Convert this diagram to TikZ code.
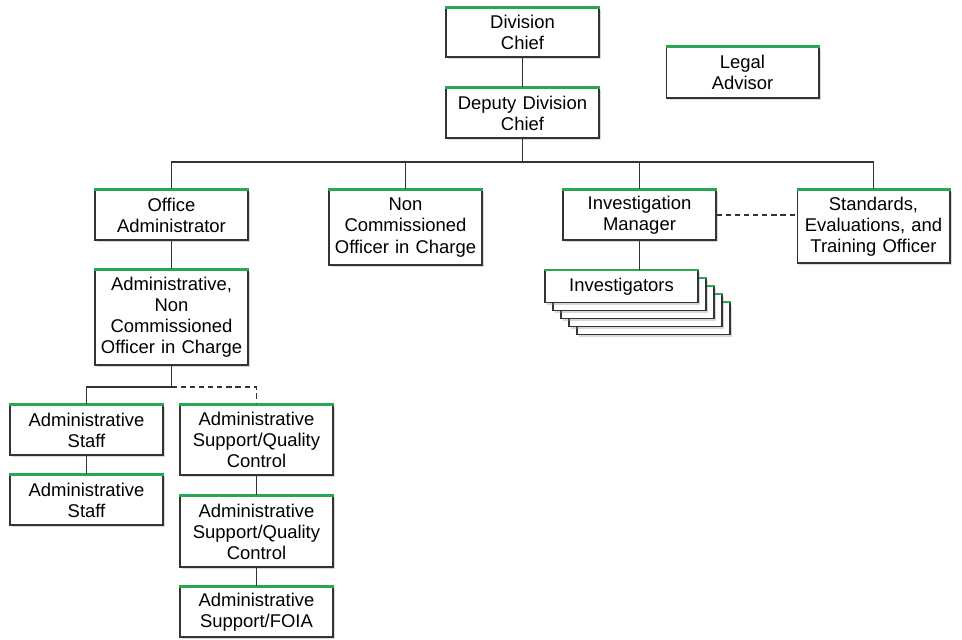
\documentclass[tikz,border=0pt]{standalone}
\usepackage{fontspec}
\setmainfont{Liberation Sans}
\usetikzlibrary{shadows}
\definecolor{topgreen}{RGB}{40,168,80}
\definecolor{linegray}{RGB}{51,51,51}

\begin{document}
\begin{tikzpicture}[x=0.02cm, y=-0.02cm,
    orgbox/.style={draw=linegray, fill=white, line width=0.6pt,
        minimum width=3.06cm, text width=2.9cm, align=center,
        inner sep=0pt, font=\fontsize{10.5}{12}\selectfont,
        drop shadow={shadow xshift=1.2pt, shadow yshift=-1.2pt, opacity=0.3}},
    topline/.style={topgreen, line width=1.2pt},
    link/.style={draw=linegray, line width=0.6pt},
    dotlink/.style={link, dash pattern=on 3pt off 2.2pt}]
    \useasboundingbox (0,0) rectangle (962,639);
    % Top of the chart
    \node[orgbox, minimum height=0.98cm] (chief) at (522.5,32.5) {Division\\Chief};
    \node[orgbox, minimum height=1cm] (deputy) at (522.5,113) {Deputy Division\\Chief};
    \node[orgbox, minimum height=1.02cm] (legal) at (742.5,72.5) {Legal\\Advisor};
    % Second row
    \node[orgbox, minimum height=1cm] (offadm) at (171.5,215) {Office\\Administrator};
    \node[orgbox, minimum height=1.5cm] (nco) at (405.5,227.5) {Non\\Commissioned\\Officer in Charge};
    \node[orgbox, minimum height=1cm] (invmgr) at (639.5,215) {Investigation\\Manager};
    \node[orgbox, minimum height=1.46cm] (seto) at (873.5,226.5) {Standards,\\Evaluations, and\\Training Officer};
    % Stack of investigators
    \foreach \i in {4,3,2,1} {
        \node[orgbox, minimum height=0.64cm] (inv\i) at (621.5+8*\i,286.5+8*\i) {};
        \draw[topline] (inv\i.north west) -- (inv\i.north east);
    }
    \node[orgbox, minimum height=0.64cm] (inv) at (621.5,286.5) {Investigators};
    % Administrative branch
    \node[orgbox, minimum height=1.9cm] (anco) at (171.5,317.5) {Administrative,\\Non\\Commissioned\\Officer in Charge};
    \node[orgbox, minimum height=1cm] (staffa) at (86.5,430) {Administrative\\Staff};
    \node[orgbox, minimum height=1cm] (staffb) at (86.5,500) {Administrative\\Staff};
    \node[orgbox, minimum height=1.4cm] (qca) at (256.5,440) {Administrative\\Support/Quality\\Control};
    \node[orgbox, minimum height=1.42cm] (qcb) at (256.5,531.5) {Administrative\\Support/Quality\\Control};
    \node[orgbox, minimum height=1cm] (foia) at (256.5,612) {Administrative\\Support/FOIA};
    % Green top edges
    \foreach \n in {chief,deputy,legal,offadm,nco,invmgr,seto,inv,anco,staffa,staffb,qca,qcb,foia} {
        \draw[topline] (\n.north west) -- (\n.north east);
    }
    % Connectors
    \coordinate (bus) at (522.5,162);
    \coordinate (split) at (171.5,387);
    \draw[link] (chief) -- (deputy);
    \draw[link] (deputy) -- (bus);
    \foreach \n in {offadm,nco,invmgr,seto} {
        \draw[link] (bus) -| (\n.north);
    }
    \draw[dotlink] (invmgr.east) -- (invmgr.east -| seto.west);
    \draw[link] (invmgr.south) -- (invmgr.south |- inv.north);
    \draw[link] (offadm) -- (anco);
    \draw[link] (anco) -- (split);
    \draw[link] (split) -| (staffa.north);
    \draw[dotlink] (split) -| (qca.north);
    \draw[link] (staffa) -- (staffb);
    \draw[link] (qca) -- (qcb);
    \draw[link] (qcb) -- (foia);
\end{tikzpicture}
\end{document}
